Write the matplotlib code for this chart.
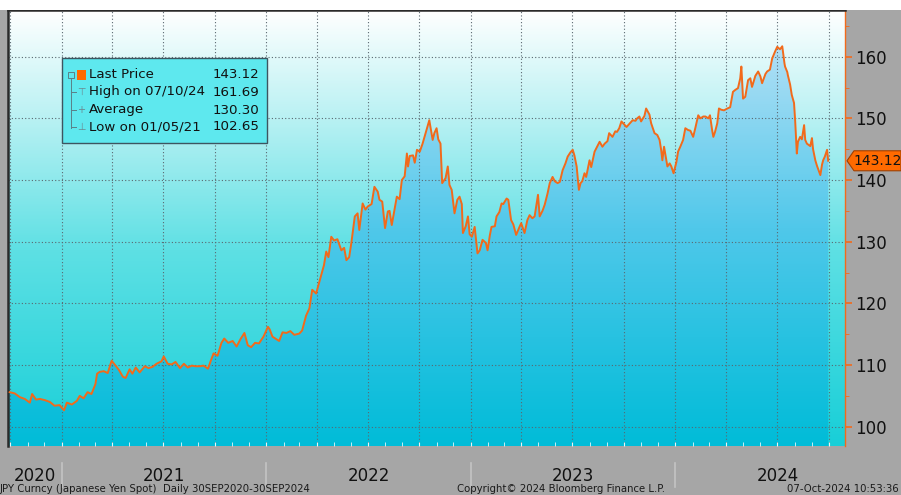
import numpy as np
import pandas as pd
import matplotlib
matplotlib.use('Agg')
import matplotlib.pyplot as plt
import matplotlib.dates as mdates
from matplotlib.colors import LinearSegmentedColormap
from matplotlib.patches import Rectangle, Polygon

# USD/JPY daily-ish closes
dates = [
    '2020-09-30', '2020-10-09', '2020-10-18', '2020-10-27', '2020-11-05', '2020-11-09', '2020-11-16',
    '2020-11-23', '2020-12-02', '2020-12-11', '2020-12-19', '2020-12-28', '2021-01-05', '2021-01-10',
    '2021-01-19', '2021-01-28', '2021-02-02', '2021-02-09', '2021-02-16', '2021-02-23', '2021-03-02',
    '2021-03-05', '2021-03-10', '2021-03-17', '2021-03-24', '2021-03-31', '2021-04-06', '2021-04-13',
    '2021-04-20', '2021-04-25', '2021-05-02', '2021-05-07', '2021-05-13', '2021-05-20', '2021-05-29',
    '2021-06-05', '2021-06-12', '2021-06-19', '2021-06-28', '2021-07-02', '2021-07-09', '2021-07-16',
    '2021-07-23', '2021-07-31', '2021-08-07', '2021-08-14', '2021-08-21', '2021-08-28', '2021-09-04',
    '2021-09-11', '2021-09-19', '2021-09-24', '2021-09-29', '2021-10-06', '2021-10-13', '2021-10-18',
    '2021-10-25', '2021-11-02', '2021-11-09', '2021-11-16', '2021-11-23', '2021-11-29', '2021-12-05',
    '2021-12-12', '2021-12-19', '2021-12-27', '2022-01-04', '2022-01-07', '2022-01-12', '2022-01-19',
    '2022-01-24', '2022-01-30', '2022-02-06', '2022-02-13', '2022-02-20', '2022-03-01', '2022-03-06',
    '2022-03-13', '2022-03-19', '2022-03-24', '2022-03-31', '2022-04-06', '2022-04-09', '2022-04-14',
    '2022-04-18', '2022-04-22', '2022-04-27', '2022-05-02', '2022-05-08', '2022-05-15', '2022-05-20',
    '2022-05-24', '2022-05-29', '2022-06-02', '2022-06-08', '2022-06-13', '2022-06-16', '2022-06-22',
    '2022-06-27', '2022-07-01', '2022-07-08', '2022-07-13', '2022-07-19', '2022-07-22', '2022-07-27',
    '2022-08-01', '2022-08-06', '2022-08-09', '2022-08-13', '2022-08-18', '2022-08-22', '2022-08-27',
    '2022-08-31', '2022-09-05', '2022-09-09', '2022-09-11', '2022-09-14', '2022-09-20', '2022-09-23',
    '2022-09-27', '2022-10-02', '2022-10-07', '2022-10-14', '2022-10-19', '2022-10-23', '2022-10-25',
    '2022-10-28', '2022-11-01', '2022-11-04', '2022-11-08', '2022-11-11', '2022-11-17', '2022-11-21',
    '2022-11-24', '2022-11-28', '2022-12-03', '2022-12-08', '2022-12-12', '2022-12-16', '2022-12-18',
    '2022-12-23', '2022-12-27', '2022-12-30', '2023-01-03', '2023-01-08', '2023-01-13', '2023-01-17',
    '2023-01-22', '2023-01-28', '2023-01-31', '2023-02-04', '2023-02-07', '2023-02-13', '2023-02-16',
    '2023-02-21', '2023-02-25', '2023-02-28', '2023-03-06', '2023-03-09', '2023-03-14', '2023-03-18',
    '2023-03-23', '2023-03-29', '2023-04-01', '2023-04-07', '2023-04-12', '2023-04-16', '2023-04-21',
    '2023-04-25', '2023-05-01', '2023-05-04', '2023-05-09', '2023-05-13', '2023-05-18', '2023-05-22',
    '2023-05-27', '2023-05-31', '2023-06-05', '2023-06-09', '2023-06-14', '2023-06-19', '2023-06-23',
    '2023-06-28', '2023-07-02', '2023-07-05', '2023-07-09', '2023-07-13', '2023-07-16', '2023-07-19',
    '2023-07-23', '2023-07-26', '2023-08-01', '2023-08-04', '2023-08-10', '2023-08-15', '2023-08-19',
    '2023-08-24', '2023-08-28', '2023-09-02', '2023-09-05', '2023-09-11', '2023-09-16', '2023-09-19',
    '2023-09-23', '2023-09-27', '2023-10-02', '2023-10-06', '2023-10-11', '2023-10-17', '2023-10-22',
    '2023-10-25', '2023-10-29', '2023-11-01', '2023-11-07', '2023-11-10', '2023-11-16', '2023-11-19',
    '2023-11-25', '2023-11-30', '2023-12-04', '2023-12-07', '2023-12-09', '2023-12-12', '2023-12-18',
    '2023-12-22', '2023-12-25', '2023-12-29', '2024-01-03', '2024-01-06', '2024-01-10', '2024-01-15',
    '2024-01-19', '2024-01-24', '2024-01-28', '2024-02-02', '2024-02-06', '2024-02-11', '2024-02-15',
    '2024-02-20', '2024-02-24', '2024-02-29', '2024-03-03', '2024-03-07', '2024-03-09', '2024-03-12',
    '2024-03-16', '2024-03-19', '2024-03-23', '2024-03-28', '2024-04-03', '2024-04-08', '2024-04-13',
    '2024-04-17', '2024-04-22', '2024-04-26', '2024-04-28', '2024-05-01', '2024-05-05', '2024-05-10',
    '2024-05-14', '2024-05-17', '2024-05-23', '2024-05-28', '2024-06-01', '2024-06-04', '2024-06-10',
    '2024-06-13', '2024-06-18', '2024-06-22', '2024-06-27', '2024-07-01', '2024-07-06', '2024-07-10',
    '2024-07-14', '2024-07-15', '2024-07-19', '2024-07-20', '2024-07-24', '2024-07-27', '2024-07-31',
    '2024-08-02', '2024-08-05', '2024-08-07', '2024-08-11', '2024-08-14', '2024-08-18', '2024-08-20',
    '2024-08-23', '2024-08-29', '2024-09-01', '2024-09-03', '2024-09-07', '2024-09-10', '2024-09-16',
    '2024-09-19', '2024-09-21', '2024-09-24', '2024-09-28', '2024-09-30',
]
prices = [
    105.6, 105.4, 104.8, 104.5, 103.9, 105.3, 104.4,
    104.5, 104.3, 104.0, 103.4, 103.5, 102.65, 103.9,
    103.6, 104.2, 105.0, 104.6, 105.6, 105.3, 106.9,
    108.6, 108.9, 109.0, 108.7, 110.7, 110.0, 109.2,
    108.1, 107.9, 109.3, 108.6, 109.6, 108.8, 109.8,
    109.5, 109.7, 110.2, 110.6, 111.4, 110.2, 110.1,
    110.5, 109.5, 110.2, 109.6, 109.9, 109.8, 109.8,
    109.9, 109.4, 110.7, 111.9, 111.5, 113.6, 114.3,
    113.6, 113.9, 113.0, 114.2, 115.2, 113.2, 112.9,
    113.6, 113.5, 114.6, 116.2, 115.8, 114.6, 114.2,
    113.9, 115.3, 115.2, 115.5, 114.9, 115.1, 115.6,
    118.0, 119.2, 122.2, 121.6, 123.6, 124.6, 126.2,
    128.4, 127.5, 130.8, 130.2, 130.4, 128.6, 129.0,
    127.0, 127.5, 129.9, 134.1, 134.6, 131.9, 136.2,
    135.2, 135.7, 136.1, 138.9, 138.1, 136.8, 136.5,
    132.2, 134.9, 135.0, 132.7, 135.2, 137.3, 136.9,
    140.0, 140.6, 144.3, 142.2, 143.9, 144.0, 142.8,
    144.9, 144.6, 145.9, 148.1, 149.7, 147.5, 146.5,
    147.6, 148.4, 146.6, 145.9, 139.5, 140.3, 142.2,
    139.2, 138.4, 134.6, 136.8, 137.3, 136.1, 131.4,
    132.5, 134.1, 131.2, 130.8, 132.4, 128.1, 128.6,
    130.3, 129.8, 128.6, 131.0, 132.4, 132.5, 134.1,
    134.8, 136.2, 136.1, 137.0, 136.8, 133.5, 132.8,
    131.1, 132.4, 133.0, 131.4, 133.5, 134.3, 133.8,
    134.1, 137.6, 134.1, 135.0, 136.0, 137.8, 139.5,
    140.5, 139.8, 139.5, 139.7, 141.6, 142.7, 143.8,
    144.5, 144.9, 144.0, 142.2, 138.4, 139.5, 139.8,
    141.1, 140.5, 143.2, 142.1, 144.6, 145.5, 146.2,
    145.4, 145.9, 146.3, 147.6, 147.0, 147.9, 147.8,
    148.4, 149.5, 149.0, 148.6, 149.1, 149.7, 149.6,
    150.0, 150.3, 149.5, 150.4, 151.6, 150.6, 149.2,
    147.6, 147.3, 146.5, 144.8, 143.2, 145.4, 142.2,
    142.7, 142.2, 141.1, 142.9, 144.6, 145.4, 146.5,
    148.4, 148.1, 148.0, 147.0, 148.5, 150.5, 150.0,
    150.3, 150.3, 150.0, 150.5, 148.0, 147.0, 147.8,
    149.2, 151.6, 151.4, 151.3, 151.6, 151.8, 154.3,
    154.6, 154.9, 156.5, 158.4, 153.2, 153.5, 156.2,
    156.5, 155.1, 156.9, 157.6, 156.8, 155.7, 157.2,
    157.6, 157.9, 159.7, 160.8, 161.6, 161.2, 161.69,
    158.9, 158.4, 157.5, 157.0, 155.5, 153.8, 152.5,
    149.7, 144.3, 146.2, 147.0, 146.6, 148.9, 146.5,
    145.9, 145.5, 146.8, 145.0, 143.2, 142.3, 140.8,
    142.5, 143.2, 143.8, 144.9, 143.12,
]
y_ticks = [100, 110, 120, 130, 140, 150, 160]
years = ['2020', '2021', '2022', '2023', '2024']
legend_labels = ['Last Price', 'High on 07/10/24', 'Average', 'Low on 01/05/21']
legend_values = ['143.12', '161.69', '130.30', '102.65']
last_price = 143.12

W, H = 901, 495
plt.rcParams['font.family'] = ['DejaVu Sans']
fig = plt.figure(figsize=(W / 100, H / 100), dpi=100)
fig.patch.set_facecolor('#a6a6a6')


def px(x, y):
    return x / W, 1 - y / H


# white strip at the top
fig.patches.append(Rectangle((0, 1 - 10 / H), 1, 10 / H, transform=fig.transFigure,
                             facecolor='white', edgecolor='none', zorder=0))

ax = fig.add_axes([8 / W, 1 - 446 / H, 837 / W, 436 / H])
d = pd.to_datetime(dates)
xmin, xmax = mdates.date2num(pd.Timestamp('2020-09-27')), mdates.date2num(pd.Timestamp('2024-10-30'))
ymin, ymax = 96.87, 167.57

# background gradient
bg_cmap = LinearSegmentedColormap.from_list('bg', [(0, '#18cfd8'), (0.45, '#5ee0e4'),
                                                   (0.75, '#b8f1f3'), (1, '#ffffff')])
grad = np.linspace(0, 1, 256).reshape(-1, 1)
ax.imshow(grad, extent=[xmin, xmax, ymin, ymax], origin='lower', aspect='auto',
          cmap=bg_cmap, zorder=0)

# area gradient under the curve
fill_cmap = LinearSegmentedColormap.from_list('fill', [(0, '#00bcd8'), (0.5, '#50c8ea'),
                                                       (1, '#c4e4f8')])
poly = ax.fill_between(d, prices, ymin, color='none', lw=0)
im = ax.imshow(grad, extent=[xmin, xmax, ymin, ymax], origin='lower', aspect='auto',
               cmap=fill_cmap, zorder=1)
im.set_clip_path(poly.get_paths()[0], transform=ax.transData)

ax.plot(d, prices, color='#f26a1b', lw=1.4, zorder=3)

ax.set_xlim(xmin, xmax)
ax.set_ylim(ymin, ymax)

# grid
ax.set_yticks(y_ticks)
ax.set_yticks(np.arange(105, 166, 10), minor=True)
ax.xaxis.set_major_locator(mdates.MonthLocator(bymonth=[1, 4, 7, 10]))
ax.xaxis.set_minor_locator(mdates.MonthLocator())
ax.grid(True, which='major', color='#5a6870', ls=(0, (1, 2)), lw=0.8, zorder=2)

ax.tick_params(axis='x', which='both', direction='in', colors='#e8f8fa', length=3,
               labelbottom=False)
ax.yaxis.tick_right()
ax.tick_params(axis='y', which='major', direction='out', color='#f26a1b', length=5,
               width=1.2, labelsize=12, labelcolor='#111111', pad=2)
ax.tick_params(axis='y', which='minor', direction='out', color='#f26a1b', length=3)

for s in ['top', 'left']:
    ax.spines[s].set_color('#2a2a2a')
    ax.spines[s].set_linewidth(1.8)
ax.spines['right'].set_color('#f26a1b')
ax.spines['right'].set_linewidth(1.0)
ax.spines['bottom'].set_visible(False)

# year labels and separators below the axes
year_starts = [pd.Timestamp(f'{y}-01-01') for y in years[1:]]
bounds = [None] + year_starts + [pd.Timestamp('2024-12-31')]
trans = ax.get_xaxis_transform()
for i, y in enumerate(years):
    lo = xmin if i == 0 else mdates.date2num(bounds[i])
    hi = mdates.date2num(bounds[i + 1])
    ax.text((lo + hi) / 2, -0.068, y, transform=trans, ha='center', va='center',
            fontsize=12, color='#111111')
for ys in year_starts:
    ax.plot([mdates.date2num(ys)] * 2, [-0.04, -0.095], transform=trans, color='#c4c4c4',
            lw=1.2, clip_on=False)

# last price tag on the right axis
ty = ax.transData.transform((xmax, last_price))[1] / H
tag = Polygon([(847 / W, ty), (854 / W, ty + 10 / H), (901 / W, ty + 10 / H),
               (901 / W, ty - 10 / H), (854 / W, ty - 10 / H)], closed=True,
              transform=fig.transFigure, facecolor='#ff6a00', edgecolor='#a04000', lw=0.8,
              zorder=5)
fig.patches.append(tag)
fig.text(853 / W, ty, f'{last_price:.2f}', fontsize=10, color='#111111', va='center',
         ha='left', zorder=6)

# legend box
lx, ly = px(62, 143)
fig.patches.append(Rectangle((lx, ly), 205 / W, 85 / H, transform=fig.transFigure,
                             facecolor='#5ee8ee', edgecolor='#3d5560', lw=1.0, zorder=5))
rows = [75, 92, 110, 127]
for i, (lab, val) in enumerate(zip(legend_labels, legend_values)):
    fig.text(*px(89, rows[i]), lab, fontsize=9.6, color='#111111', va='center', ha='left',
             zorder=6)
    fig.text(*px(259, rows[i]), val, fontsize=9.6, color='#111111', va='center', ha='right',
             zorder=6)
# tree connector and icons
fig.lines.append(plt.Line2D([71 / W, 71 / W], [px(0, 78)[1], px(0, 128)[1]],
                            transform=fig.transFigure, color='#5a8088', lw=0.7, zorder=6))
for r in rows[1:]:
    fig.lines.append(plt.Line2D([71 / W, 76 / W], [px(0, r)[1]] * 2,
                                transform=fig.transFigure, color='#5a8088', lw=0.7, zorder=6))
fig.patches.append(Rectangle(px(68, 78), 6 / W, 6 / H, transform=fig.transFigure,
                             facecolor='none', edgecolor='#5a8088', lw=0.7, zorder=6))
fig.patches.append(Rectangle(px(77, 80), 9 / W, 10 / H, transform=fig.transFigure,
                             facecolor='#ff6a00', edgecolor='none', zorder=6))
for r, g in zip(rows[1:], ['\u22a4', '+', '\u22a5']):
    fig.text(*px(81, r), g, fontsize=7, color='#6a8890', va='center', ha='center', zorder=6)

# footer
fig.text(*px(0, 489), 'JPY Curncy (Japanese Yen Spot)  Daily 30SEP2020-30SEP2024',
         fontsize=7.3, color='#1a1a1a', va='center', ha='left')
fig.text(*px(457, 489), 'Copyright\u00a9 2024 Bloomberg Finance L.P.', fontsize=7.3,
         color='#1a1a1a', va='center', ha='left')
fig.text(*px(899, 489), '07-Oct-2024 10:53:36', fontsize=7.3, color='#1a1a1a',
         va='center', ha='right')

fig.savefig('out.png', dpi=100, facecolor=fig.get_facecolor())
